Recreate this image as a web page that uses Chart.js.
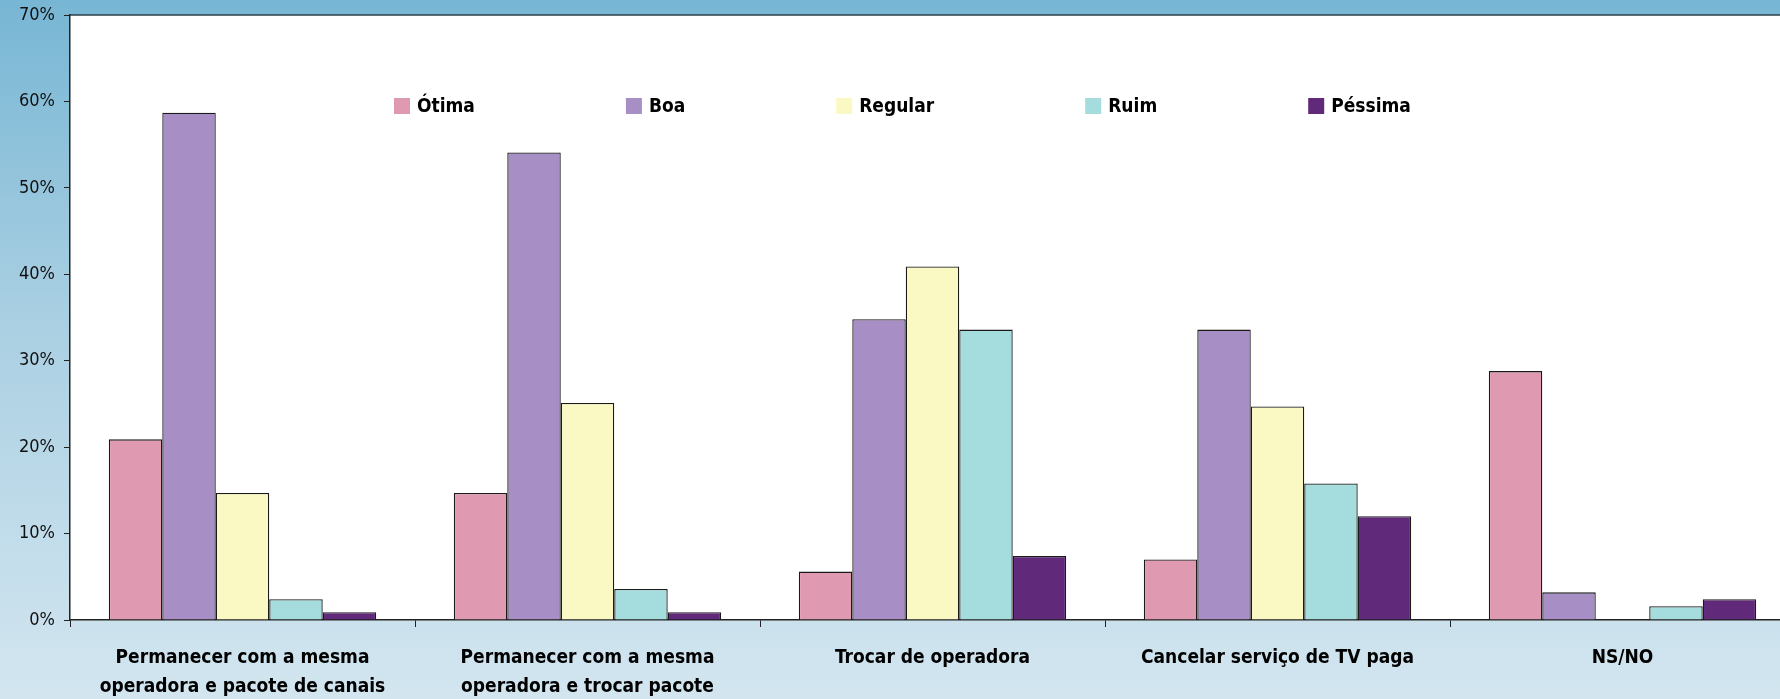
<!DOCTYPE html>
<html>
<head>
<meta charset="utf-8">
<script src="https://cdn.jsdelivr.net/npm/chart.js@4/dist/chart.umd.min.js"></script>
<style>
  html, body { margin: 0; padding: 0; }
  body {
    width: 1780px; height: 699px; overflow: hidden;
    background: linear-gradient(to bottom, #77b6d4 0%, #a9cfe2 45%, #d3e6f0 100%);
  }
  #wrap { position: relative; width: 1795px; height: 699px; }
</style>
</head>
<body>
<div id="wrap"><canvas id="grafico"></canvas></div>
<script>
const categorias = [
  ["Permanecer com a mesma", "operadora e pacote de canais"],
  ["Permanecer com a mesma", "operadora e trocar pacote"],
  "Trocar de operadora",
  "Cancelar serviço de TV paga",
  "NS/NO"
];
const otima   = [20.9, 14.7, 5.6, 7.0, 28.8];
const boa     = [58.7, 54.1, 34.8, 33.6, 3.2];
const regular = [14.7, 25.1, 40.9, 24.7, 0];
const ruim    = [2.4, 3.6, 33.6, 15.8, 1.6];
const pessima = [0.9, 0.9, 7.4, 12.0, 2.4];
const ticksY  = [0, 10, 20, 30, 40, 50, 60, 70];

const fonte = '"Liberation Sans Narrow", "DejaVu Sans Condensed", "DejaVu Sans", sans-serif';

// fundo branco da área do gráfico e linha superior
const areaBranca = {
  id: 'areaBranca',
  beforeDraw(chart) {
    const {ctx, chartArea: a} = chart;
    ctx.save();
    ctx.fillStyle = '#ffffff';
    ctx.fillRect(a.left, a.top, a.right - a.left, a.bottom - a.top);
    ctx.strokeStyle = '#2c3e48';
    ctx.lineWidth = 1.5;
    ctx.beginPath();
    ctx.moveTo(a.left, a.top);
    ctx.lineTo(a.right, a.top);
    ctx.stroke();
    ctx.restore();
  }
};

// legenda dentro da área do gráfico
const legendaInterna = {
  id: 'legendaInterna',
  afterDraw(chart) {
    const {ctx, chartArea: a} = chart;
    ctx.save();
    ctx.font = 'bold 19px ' + fonte;
    ctx.textBaseline = 'middle';
    ctx.textAlign = 'left';
    let x = a.left + 324;
    const y = a.top + 91;
    chart.data.datasets.forEach(ds => {
      ctx.fillStyle = ds.backgroundColor;
      ctx.fillRect(x, y - 8, 16, 16);
      ctx.fillStyle = '#000';
      ctx.fillText(ds.label, x + 23, y + 1);
      x += 23 + ctx.measureText(ds.label).width + 151;
    });
    ctx.restore();
  }
};

const ctx = document.getElementById('grafico').getContext('2d');

new Chart(ctx, {
  type: 'bar',
  data: {
    labels: categorias,
    datasets: [
      { label: 'Ótima',   data: otima,   backgroundColor: '#df9ab1' },
      { label: 'Boa',     data: boa,     backgroundColor: '#a78fc5' },
      { label: 'Regular', data: regular, backgroundColor: '#faf8c3' },
      { label: 'Ruim',    data: ruim,    backgroundColor: '#a5dcdd' },
      { label: 'Péssima', data: pessima, backgroundColor: '#61297a' }
    ]
  },
  options: {
    responsive: true,
    maintainAspectRatio: false,
    animation: false,
    layout: { padding: { top: 15, right: 0, left: 0, bottom: 0 } },
    datasets: {
      bar: {
        categoryPercentage: 0.775,
        barPercentage: 1.0,
        borderColor: '#1a1a1a',
        borderWidth: 1.3
      }
    },
    plugins: {
      legend: { display: false },
      tooltip: { enabled: false }
    },
    scales: {
      x: {
        afterFit(scale) { scale.height = 79; scale.paddingLeft = 0; scale.paddingRight = 0; },
        grid: {
          offset: true,
          drawOnChartArea: false,
          tickLength: 7,
          color: '#222',
          lineWidth: 1
        },
        border: { color: '#222', width: 1.5 },
        ticks: {
          color: '#000',
          padding: 16,
          font: { family: fonte, size: 19, weight: 'bold', lineHeight: 1.55 }
        }
      },
      y: {
        min: 0,
        max: 70,
        afterFit(scale) { scale.width = 70; scale.paddingTop = 0; scale.paddingBottom = 0; },
        afterBuildTicks(scale) { scale.ticks = ticksY.map(v => ({ value: v })); },
        grid: {
          drawOnChartArea: false,
          tickLength: 6,
          color: '#222',
          lineWidth: 1
        },
        border: { color: '#222', width: 1.5 },
        ticks: {
          color: '#111',
          padding: 9,
          font: { family: fonte, size: 18 },
          callback: v => v + '%'
        }
      }
    }
  },
  plugins: [areaBranca, legendaInterna]
});
</script>
</body>
</html>
